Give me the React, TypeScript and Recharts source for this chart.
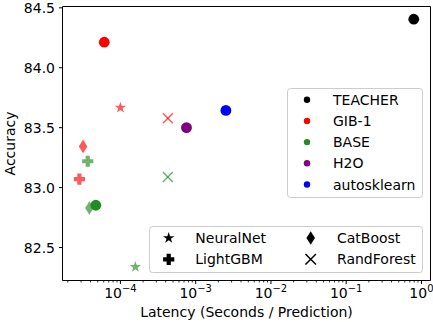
import React from 'react';
import { ScatterChart, Scatter, XAxis, YAxis, ReferenceLine } from 'recharts';

// ---- data ----
const methodNames = ['TEACHER', 'GIB-1', 'BASE', 'H2O', 'autosklearn'];
const methodColors = ['#000000', '#ff0000', '#228b22', '#800080', '#0000ff'];
const ensembleLatency = [0.79, 6.1e-5, 4.71e-5, 7.55e-4, 2.52e-3];
const ensembleAccuracy = [84.405, 84.213, 82.853, 83.5, 83.644];

const modelNames = ['NeuralNet', 'LightGBM', 'CatBoost', 'RandForest'];
const modelKinds = ['star', 'plus', 'diamond', 'x'];
const gibLatency = [1.0e-4, 2.85e-5, 3.19e-5, 4.27e-4];
const gibAccuracy = [83.667, 83.07, 83.344, 83.578];
const baseLatency = [1.58e-4, 3.68e-5, 3.87e-5, 4.27e-4];
const baseAccuracy = [82.338, 83.22, 82.83, 83.088];

const xMajorTicks = [1e-4, 1e-3, 1e-2, 1e-1, 1];
const xMajorExponents = ['\u22124', '\u22123', '\u22122', '\u22121', '0'];
const yTicks = [82.5, 83.0, 83.5, 84.0, 84.5];
const xDomain: [number, number] = [1.7e-5, 1.318];
const yDomain: [number, number] = [82.225, 84.511];

const minorTicks: number[] = [];
for (let k = -5; k <= 0; k++) {
  for (let m = 2; m <= 9; m++) {
    const v = m * Math.pow(10, k);
    if (v > xDomain[0] && v < xDomain[1]) minorTicks.push(v);
  }
}
const allXTicks = [...xMajorTicks, ...minorTicks].sort((a, b) => a - b);

const gibData = modelNames.map((n, i) => ({ x: gibLatency[i], y: gibAccuracy[i], kind: modelKinds[i] }));
const baseData = modelNames.map((n, i) => ({ x: baseLatency[i], y: baseAccuracy[i], kind: modelKinds[i] }));

const FONT = 'DejaVu Sans, sans-serif';

function starPath(cx: number, cy: number, R: number) {
  const r = R * 0.382;
  const pts: string[] = [];
  for (let i = 0; i < 10; i++) {
    const rad = i % 2 === 0 ? R : r;
    const a = -Math.PI / 2 + (i * Math.PI) / 5;
    pts.push(`${(cx + rad * Math.cos(a)).toFixed(2)},${(cy + rad * Math.sin(a)).toFixed(2)}`);
  }
  return 'M' + pts.join('L') + 'Z';
}

function Marker({ kind, cx, cy, color, opacity = 1, s = 1 }: any) {
  if (cx == null || cy == null) return null;
  if (kind === 'circle') {
    return <circle cx={cx} cy={cy} r={5.4 * s} fill={color} fillOpacity={opacity} />;
  }
  if (kind === 'star') {
    return <path d={starPath(cx, cy, 6 * s)} fill={color} fillOpacity={opacity} />;
  }
  if (kind === 'plus') {
    const a = 5.6 * s;
    const t = 2.1 * s;
    const d = `M${cx - t},${cy - a}H${cx + t}V${cy - t}H${cx + a}V${cy + t}H${cx + t}V${cy + a}H${cx - t}V${cy + t}H${cx - a}V${cy - t}H${cx - t}Z`;
    return <path d={d} fill={color} fillOpacity={opacity} />;
  }
  if (kind === 'diamond') {
    const w = 4.3 * s;
    const h = 6.8 * s;
    const d = `M${cx},${cy - h}L${cx + w},${cy}L${cx},${cy + h}L${cx - w},${cy}Z`;
    return <path d={d} fill={color} fillOpacity={opacity} />;
  }
  if (kind === 'x') {
    const a = 5 * s;
    return (
      <g stroke={color} strokeOpacity={opacity} strokeWidth={1.5} fill="none">
        <line x1={cx - a} y1={cy - a} x2={cx + a} y2={cy + a} />
        <line x1={cx - a} y1={cy + a} x2={cx + a} y2={cy - a} />
      </g>
    );
  }
  return null;
}

function XTick(props: any) {
  const { x, y, payload } = props;
  const v = payload.value;
  const idx = xMajorTicks.findIndex((t) => Math.abs(Math.log10(t) - Math.log10(v)) < 1e-6);
  if (idx >= 0) {
    return (
      <g>
        <line x1={x} y1={y} x2={x} y2={y + 3.5} stroke="#000" strokeWidth={1} />
        <text x={x} y={y + 17.5} textAnchor="middle" fontSize={14} fill="#000" fontFamily={FONT}>
          <tspan>10</tspan>
          <tspan dy={-6} fontSize={10}>{xMajorExponents[idx]}</tspan>
        </text>
      </g>
    );
  }
  return <line x1={x} y1={y} x2={x} y2={y + 2} stroke="#000" strokeWidth={0.8} />;
}

function XLabel(props: any) {
  const vb = props.viewBox || {};
  return (
    <text x={vb.x + vb.width / 2} y={vb.y + 36.5} textAnchor="middle" fontSize={14} fill="#000" fontFamily={FONT}>
      Latency (Seconds / Prediction)
    </text>
  );
}

function YLabel(props: any) {
  const vb = props.viewBox || {};
  const cy = vb.y + vb.height / 2;
  return (
    <text x={15} y={cy} transform={`rotate(-90, 15, ${cy})`} textAnchor="middle" fontSize={14} fill="#000" fontFamily={FONT}>
      Accuracy
    </text>
  );
}

export default function App() {
  const legend1Top = 99.7;
  const legend1Step = 21.2;
  return (
    <div style={{ position: 'absolute', left: 0, top: 0, width: 433, height: 322, fontFamily: FONT, background: '#fff' }}>
      <ScatterChart width={433} height={322} margin={{ top: 6.5, right: 2.5, bottom: 0, left: 0 }}>
        <XAxis
          dataKey="x"
          type="number"
          scale="log"
          domain={xDomain}
          allowDataOverflow
          ticks={allXTicks}
          interval={0}
          tick={<XTick />}
          tickLine={false}
          tickSize={0}
          tickMargin={0}
          height={41.5}
          axisLine={{ stroke: '#000', strokeWidth: 1 }}
          label={<XLabel />}
        />
        <YAxis
          dataKey="y"
          type="number"
          domain={yDomain}
          allowDataOverflow
          ticks={yTicks}
          interval={0}
          tickFormatter={(v: number) => v.toFixed(1)}
          tick={{ fill: '#000', fontSize: 14, fontFamily: FONT }}
          tickLine={{ stroke: '#000' }}
          tickSize={3.5}
          tickMargin={4}
          width={62.5}
          axisLine={{ stroke: '#000', strokeWidth: 1 }}
          label={<YLabel />}
        />
        <ReferenceLine y={yDomain[1]} stroke="#000" strokeWidth={1} ifOverflow="extendDomain" />
        <ReferenceLine x={xDomain[1]} stroke="#000" strokeWidth={1} ifOverflow="extendDomain" />
        <Scatter
          data={gibData}
          isAnimationActive={false}
          shape={(p: any) => <Marker kind={p.payload.kind} cx={p.cx} cy={p.cy} color={methodColors[1]} opacity={0.65} />}
        />
        <Scatter
          data={baseData}
          isAnimationActive={false}
          shape={(p: any) => <Marker kind={p.payload.kind} cx={p.cx} cy={p.cy} color={methodColors[2]} opacity={0.65} />}
        />
        {methodNames.map((name, i) => (
          <Scatter
            key={name}
            name={name}
            data={[{ x: ensembleLatency[i], y: ensembleAccuracy[i] }]}
            isAnimationActive={false}
            shape={(p: any) => <Marker kind="circle" cx={p.cx} cy={p.cy} color={methodColors[i]} />}
          />
        ))}
      </ScatterChart>
      <svg width={433} height={322} style={{ position: 'absolute', left: 0, top: 0, pointerEvents: 'none' }}>
        <rect x={287.5} y={88.5} width={135} height={109} rx={3} fill="#fff" fillOpacity={0.8} stroke="#cccccc" strokeWidth={1} />
        {methodNames.map((name, i) => (
          <g key={name}>
            <circle cx={307} cy={legend1Top + i * legend1Step} r={3.2} fill={methodColors[i]} />
            <text x={333} y={legend1Top + i * legend1Step + 5.1} fontSize={14} fill="#000" fontFamily={FONT}>
              {name}
            </text>
          </g>
        ))}
        <rect x={149.5} y={226.5} width={273} height={46} rx={3} fill="#fff" fillOpacity={0.8} stroke="#cccccc" strokeWidth={1} />
        {modelNames.map((name, i) => {
          const col = Math.floor(i / 2) === 0 ? 0 : 1;
          const row = i % 2;
          const order = [
            { mx: 168.7, tx: 195.3 },
            { mx: 310.7, tx: 337 },
          ];
          const cy = 238 + row * 21.3;
          return (
            <g key={name}>
              <Marker kind={modelKinds[i]} cx={order[col].mx} cy={cy} color="#000" s={i === 3 ? 1.05 : 1} />
              <text x={order[col].tx} y={cy + 5.1} fontSize={14} fill="#000" fontFamily={FONT}>
                {name}
              </text>
            </g>
          );
        })}
      </svg>
    </div>
  );
}
